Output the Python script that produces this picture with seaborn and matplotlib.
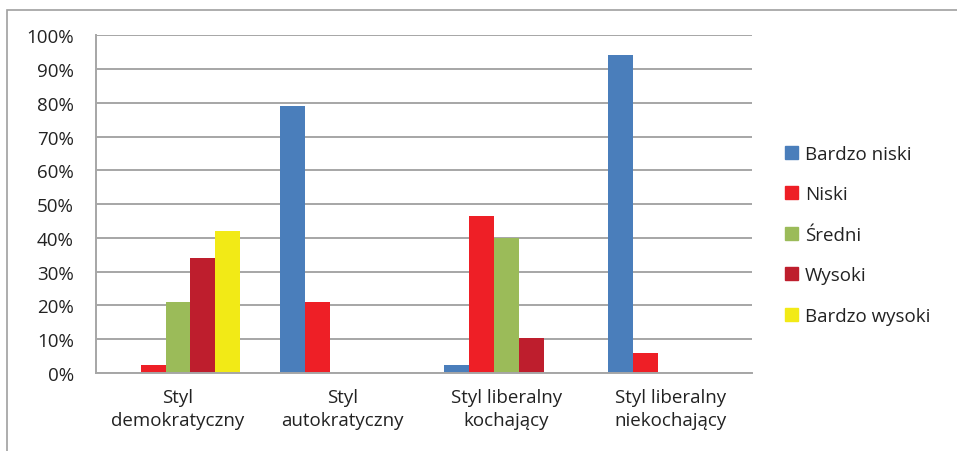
import pandas as pd
import matplotlib.pyplot as plt
import matplotlib.patches as mpatches
import seaborn as sns

# dane (w %)
categories = ["Styl\ndemokratyczny", "Styl\nautokratyczny",
              "Styl liberalny\nkochający", "Styl liberalny\nniekochający"]
levels = ["Bardzo niski", "Niski", "Średni", "Wysoki", "Bardzo wysoki"]
bardzo_niski = [0, 79, 2.5, 94]
niski = [2.5, 21, 46.5, 6]
sredni = [21, 0, 40, 0]
wysoki = [34, 0, 10.5, 0]
bardzo_wysoki = [42, 0, 0, 0]
colors = ["#4A7EBB", "#EE1F26", "#9BBB59", "#BE1E2D", "#F2EA16"]

df = pd.DataFrame({
    "Styl": categories * 5,
    "Poziom": [l for l in levels for _ in categories],
    "Wartosc": bardzo_niski + niski + sredni + wysoki + bardzo_wysoki,
})

sns.set_style("white")
plt.rcParams['font.family'] = ['Open Sans', 'DejaVu Sans']

fig = plt.figure(figsize=(9.57, 4.52), dpi=100)
ax = fig.add_axes([0.1003, 0.1726, 0.6857, 0.7474])

sns.barplot(data=df, x="Styl", y="Wartosc", hue="Poziom", hue_order=levels,
            palette=colors, saturation=1, width=0.76, gap=0, ax=ax,
            linewidth=0, legend=False)

ax.set_ylim(0, 100)
ax.set_xlim(-0.5, 3.5)
ax.set_yticks(range(0, 101, 10))
ax.set_yticklabels([f"{v}%" for v in range(0, 101, 10)])
ax.yaxis.grid(True, color="#A6A6A6", linewidth=1.4)
ax.set_axisbelow(True)
ax.set_xlabel("")
ax.set_ylabel("")
ax.tick_params(axis="y", length=0, pad=16, labelsize=13.5, colors="#222222")
ax.tick_params(axis="x", length=0, pad=11, labelsize=13.5, colors="#222222")
for lbl in ax.get_xticklabels():
    lbl.set_linespacing(1.35)
for s in ["top", "right"]:
    ax.spines[s].set_visible(False)
for s in ["left", "bottom"]:
    ax.spines[s].set_color("#A6A6A6")
    ax.spines[s].set_linewidth(1.4)

handles = [mpatches.Patch(color=c, label=l) for c, l in zip(colors, levels)]
fig.legend(handles=handles, loc="center left", bbox_to_anchor=(0.803, 0.478),
           frameon=False, fontsize=13.5, handlelength=0.7, handleheight=0.7,
           handletextpad=0.35, labelspacing=1.2, labelcolor="#222222")

# ramka wykresu (ucięta z prawej i z dołu)
frame = mpatches.Rectangle((7 / 957, -0.1), 1.2, 1.1 - 11 / 452,
                           transform=fig.transFigure, fill=False,
                           edgecolor="#A0A0A0", linewidth=1.2)
fig.patches.append(frame)

fig.savefig("out.png", dpi=100)
